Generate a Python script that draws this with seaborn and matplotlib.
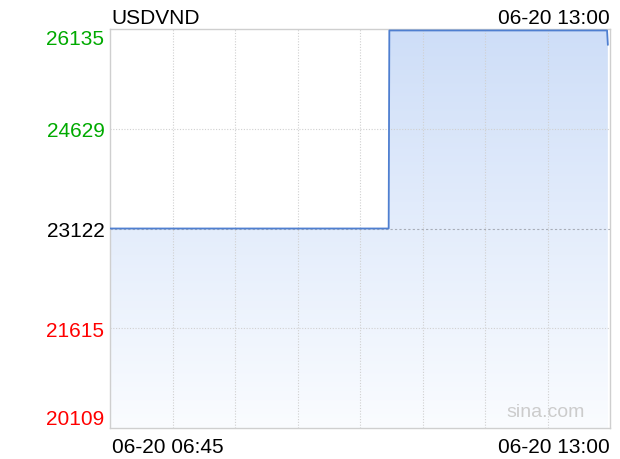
import numpy as np
import pandas as pd
import matplotlib
matplotlib.use("Agg")
import matplotlib.pyplot as plt
import seaborn as sns
from matplotlib.colors import LinearSegmentedColormap

# ---- data ----
title = "USDVND"
time_min = [0, 209, 209.5, 372.8, 373.4]      # minutes after 06:45
rate = [23122, 23122, 26113, 26113, 25895]
prev_close = 23122
ytick_vals = [26135, 24629, 23122, 21615, 20109]
ytick_labels = ["26135", "24629", "23122", "21615", "20109"]
ytick_colors = ["#00aa00", "#00aa00", "#000000", "#ff0000", "#ff0000"]
x_start_label = "06-20 06:45"
x_end_label = "06-20 13:00"
top_right_label = "06-20 13:00"
total_minutes = 375

df = pd.DataFrame({"t": time_min, "rate": rate})

sns.set_theme(style="white")
plt.rcParams["font.family"] = ["Liberation Sans", "DejaVu Sans"]
plt.rcParams["text.color"] = "black"

fig = plt.figure(figsize=(6.2, 4.6), dpi=100)
ax = fig.add_axes([110 / 620, 31 / 460, 500 / 620, 399 / 460])

ymin, ymax = 20109, 26135
ax.set_xlim(0, total_minutes)
ax.set_ylim(ymin, ymax)

# gradient fill under line
cmap = LinearSegmentedColormap.from_list("g", ["#fafcff", "#cedef8"])
grad = np.linspace(0, 1, 256).reshape(-1, 1)
im = ax.imshow(grad, aspect="auto", cmap=cmap, origin="lower",
               extent=[0, total_minutes, ymin, ymax], zorder=1)
poly = ax.fill_between(df["t"], df["rate"], ymin, color="none", lw=0)
path = poly.get_paths()[0]
im.set_clip_path(path, transform=ax.transData)

# grid
for i in range(1, 8):
    ax.axvline(total_minutes * i / 8, color="#d0d0d0", lw=0.8, ls=(0, (1, 1.5)), zorder=2)
for v in [24629, 21615]:
    ax.axhline(v, color="#d0d0d0", lw=0.8, ls=(0, (1, 1.5)), zorder=2)
ax.axhline(prev_close, color="#a8adb8", lw=0.8, ls=(0, (2, 2)), zorder=2)

sns.lineplot(data=df, x="t", y="rate", ax=ax, color="#4f7fd0", lw=1.3, zorder=3)

# frame
for s in ax.spines.values():
    s.set_color("#cfcfcf")
    s.set_linewidth(1)
    s.set_visible(True)

ax.set_xlabel("")
ax.set_ylabel("")
ax.set_xticks([])
ax.set_yticks(ytick_vals)
ax.set_yticklabels(ytick_labels, fontsize=15)
ax.tick_params(axis="y", length=0, pad=4)
for lbl, c, v in zip(ax.get_yticklabels(), ytick_colors, ytick_vals):
    lbl.set_color(c)
    if v == ymax:
        lbl.set_va("top")
    elif v == ymin:
        lbl.set_va("bottom")
ax.grid(False)

# texts
ax.text(0.003, 1.005, title, transform=ax.transAxes, fontsize=15, ha="left", va="bottom", color="black")
ax.text(1.0, 1.005, top_right_label, transform=ax.transAxes, fontsize=15, ha="right", va="bottom", color="black")
ax.text(0.003, -0.022, x_start_label, transform=ax.transAxes, fontsize=15, ha="left", va="top", color="black")
ax.text(1.0, -0.022, x_end_label, transform=ax.transAxes, fontsize=15, ha="right", va="top", color="black")
ax.text(0.95, 0.02, "sina.com", transform=ax.transAxes, fontsize=14, color="#cccccc",
        ha="right", va="bottom")

fig.savefig("out.png", dpi=100)
